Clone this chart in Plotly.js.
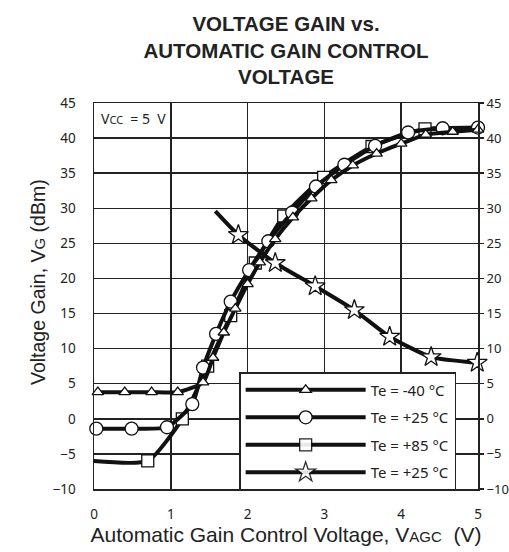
<!DOCTYPE html>
<html>
<head>
<meta charset="utf-8">
<script src="https://cdn.plot.ly/plotly-3.0.1.min.js"></script>
<style>html,body{margin:0;padding:0;background:#fff;}#chart{width:509px;height:552px;}</style>
</head>
<body>
<div id="chart"></div>
<script>
// Data
const triX = [0.05, 0.40, 0.75, 1.09, 1.42, 1.55, 1.69, 1.84, 2.00, 2.16, 2.36, 2.59, 2.83, 3.09, 3.37, 3.68, 4.00, 4.32, 4.67, 5.00];
const triY = [3.8, 3.8, 3.8, 3.8, 5.2, 8.7, 12.3, 15.7, 19.2, 22.3, 25.6, 28.7, 31.4, 34.0, 36.1, 37.8, 39.2, 40.5, 40.9, 41.2];

const cirX = [0.03, 0.49, 0.95, 1.28, 1.42, 1.59, 1.78, 2.02, 2.27, 2.58, 2.89, 3.26, 3.66, 4.09, 4.54, 5.00];
const cirY = [-1.4, -1.4, -1.2, 2.1, 7.3, 12.1, 16.7, 21.2, 25.3, 29.4, 33.1, 36.2, 38.9, 40.8, 41.4, 41.5];

const sqX = [-0.03, 0.70, 1.15, 1.48, 1.78, 2.10, 2.47, 2.99, 3.62, 4.31, 5.00];
const sqY = [-6.0, -6.0, 0.0, 7.5, 14.7, 22.2, 28.9, 34.4, 38.8, 41.3, 41.4];
const sqShown = [true, true, true, true, true, true, true, true, true, true, false];

const starX = [1.58, 1.88, 2.36, 2.88, 3.39, 3.85, 4.39, 4.99];
const starY = [29.6, 26.2, 22.2, 18.9, 15.5, 11.7, 8.8, 8.0];
const starShown = [false, true, true, true, true, true, true, true];

const seriesNames = ["Te = -40 °C", "Te = +25 °C", "Te = +85 °C", "Te = +25 °C"];
const yTicks = [-10, -5, 0, 5, 10, 15, 20, 25, 30, 35, 40, 45];
const xTicks = [0, 1, 2, 3, 4, 5];

const tickFont = {family: "Noto Sans, Open Sans, sans-serif", size: 13.5, color: "#222"};
const rightTickFont = {family: "Noto Sans, Open Sans, sans-serif", size: 13, color: "#222"};

function curve(x, y, name, symbol, size, rank, shown) {
  return {
    x: x, y: y, name: name, type: "scatter", mode: "lines+markers",
    legendgroup: "g" + rank, legendrank: rank,
    line: {color: "#111", width: 4, shape: "spline", smoothing: 0.55},
    marker: {symbol: symbol, size: size, color: "#fff", line: {color: "#111", width: 1.3},
             opacity: shown ? shown.map(s => s ? 1 : 0) : 1},
    cliponaxis: false
  };
}

// drawing order: squares, circles, triangles, stars (legend order via legendrank)
const traces = [
  curve(sqX, sqY, seriesNames[2], "square", 12, 3, sqShown),
  curve(cirX, cirY, seriesNames[1], "circle", 13, 2),
  curve(triX, triY, seriesNames[0], "triangle-up", 10, 1),
  curve(starX, starY, seriesNames[3], "star", 15, 4, starShown)
];

const layout = {
  width: 509, height: 552,
  margin: {l: 94, r: 31, t: 103, b: 63},
  paper_bgcolor: "#fff", plot_bgcolor: "#fff",
  showlegend: true,
  font: {family: "Liberation Sans, Arial, sans-serif", color: "#222"},
  title: {
    text: "<b>VOLTAGE GAIN vs.<br>AUTOMATIC GAIN CONTROL<br>VOLTAGE</b>",
    font: {family: "Liberation Sans, Arial, sans-serif", size: 20.5, color: "#222"},
    x: 0.5, xref: "paper", y: 1 - 31 / 552, yref: "container", yanchor: "middle"
  },
  xaxis: {
    range: [0, 5], tickvals: xTicks, ticks: "", ticklabelstandoff: 12,
    showgrid: true, gridcolor: "#222", gridwidth: 1.5,
    showline: true, linecolor: "#222", linewidth: 1.5, mirror: true,
    zeroline: false, tickfont: tickFont,
    title: {text: "Automatic Gain Control Voltage, V<span style=\"font-size:15px\">AGC</span>  (V)",
            font: {family: "Liberation Sans, Arial, sans-serif", size: 21, color: "#222"}, standoff: 0}
  },
  yaxis: {
    range: [-10, 45], tickvals: yTicks, ticks: "",
    showgrid: true, gridcolor: "#222", gridwidth: 1.5,
    showline: true, linecolor: "#222", linewidth: 1.5, mirror: true,
    zeroline: false, tickfont: tickFont, ticklabelstandoff: 14
  },
  yaxis2: {
    range: [-10, 45], tickvals: yTicks, overlaying: "y", side: "right",
    ticks: "outside", ticklen: 5, tickwidth: 1.5, tickcolor: "#222",
    showgrid: false, zeroline: false, showline: false, tickfont: rightTickFont
  },
  legend: {
    x: 0.378, y: 0.303, xanchor: "left", yanchor: "top",
    bgcolor: "#fff", bordercolor: "#222", borderwidth: 1.5,
    font: {family: "Noto Sans, Open Sans, sans-serif", size: 15, color: "#222"},
    itemwidth: 120, tracegroupgap: 5, traceorder: "grouped"
  },
  annotations: [
    {xref: "paper", yref: "paper", x: (25 - 94) / 384, y: (489 - 282) / 386,
     text: "Voltage Gain, V<span style=\"font-size:15px\">G</span> (dBm)", textangle: -90, showarrow: false,
     font: {family: "Liberation Sans, Arial, sans-serif", size: 19.5, color: "#222"}},
    {xref: "paper", yref: "paper", x: 0.012, y: 0.96, xanchor: "left", yanchor: "middle",
     text: "V<span style=\"font-size:11px\">CC</span>  = 5  V", showarrow: false, bgcolor: "#fff",
     font: {family: "Noto Sans, Open Sans, sans-serif", size: 14, color: "#222"}}
  ]
};

// invisible trace to activate the right-hand axis
traces.push({x: [0], y: [0], yaxis: "y2", type: "scatter", mode: "markers", showlegend: false,
  marker: {opacity: 0}, hoverinfo: "skip"});

Plotly.newPlot("chart", traces, layout, {displayModeBar: false, staticPlot: true});
</script>
</body>
</html>
